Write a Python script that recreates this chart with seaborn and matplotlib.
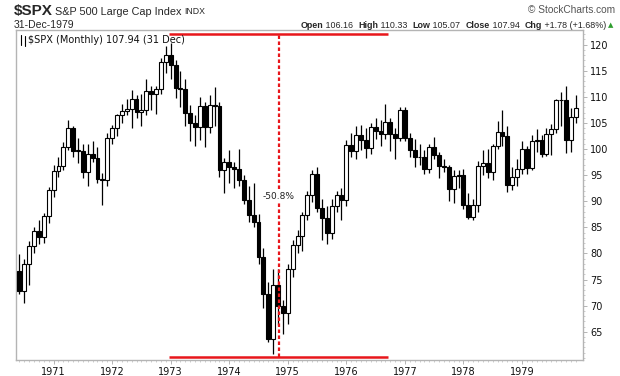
import matplotlib
matplotlib.use("Agg")
import matplotlib.pyplot as plt
import numpy as np
import pandas as pd
import seaborn as sns

# S&P 500 monthly candles, Jun 1970 - Dec 1979
months = pd.date_range("1970-06-01", "1979-12-01", freq="MS")

opens = [76.55, 72.72, 78.05, 81.52, 84.21, 83.25, 87.20,
         92.15, 95.88, 96.75, 100.31, 103.95, 99.63, 99.70, 95.58, 99.03, 98.34, 94.23, 93.99,
         102.09, 103.94, 106.57, 107.20, 107.67, 109.53, 107.14, 107.39, 111.09, 110.55, 111.58, 116.67,
         118.05, 116.03, 111.68, 111.52, 106.97, 104.95, 104.26, 108.22, 104.25, 108.43, 108.29, 95.96,
         97.55, 96.57, 96.22, 93.98, 90.31, 87.28, 86.00, 79.31, 72.15, 63.54, 73.90, 69.97,
         68.56, 76.98, 81.59, 83.36, 87.30, 91.15, 95.19, 88.75, 86.88, 83.87, 89.04, 91.24,
         90.19, 100.86, 99.71, 102.77, 101.64, 100.18, 104.28, 103.44, 102.91, 105.24, 102.90, 102.10,
         107.46, 102.03, 99.82, 98.42, 98.44, 96.12, 100.48, 98.85, 96.77, 96.53, 92.34, 94.83,
         95.10, 89.25, 87.04, 89.21, 96.83, 97.24, 95.53, 100.68, 103.29, 102.54, 93.15, 94.70,
         96.11, 99.93, 96.28, 101.59, 101.76, 99.08, 102.91, 103.81, 109.32, 109.32, 101.82, 106.16]

highs = [79.96, 78.90, 82.30, 85.10, 86.50, 87.80, 92.80,
         97.00, 98.50, 101.40, 105.60, 104.50, 102.10, 101.00, 101.00, 101.50, 100.40, 95.50, 103.00,
         104.60, 106.80, 108.60, 109.60, 111.30, 110.40, 110.50, 113.40, 112.10, 112.00, 117.50, 119.80,
         120.24, 117.00, 115.00, 113.50, 108.50, 106.50, 109.90, 109.00, 110.30, 111.80, 109.00, 98.30,
         99.80, 97.50, 100.00, 95.00, 93.00, 93.50, 87.50, 81.00, 74.50, 77.00, 77.00, 71.00,
         78.00, 82.50, 84.50, 88.00, 92.00, 96.00, 96.60, 90.50, 89.00, 90.50, 92.00, 92.50,
         101.80, 103.00, 104.40, 104.60, 104.00, 105.00, 106.00, 105.50, 108.60, 106.00, 104.00, 108.00,
         107.97, 103.00, 102.00, 101.00, 99.80, 101.00, 102.40, 99.50, 98.00, 97.00, 96.00, 96.00,
         96.20, 91.50, 90.50, 97.80, 99.80, 100.00, 101.00, 105.30, 107.50, 104.50, 96.50, 98.00,
         101.50, 100.50, 102.70, 103.80, 102.60, 104.00, 104.80, 109.50, 110.90, 112.00, 107.80, 110.33]

lows = [72.25, 70.60, 74.00, 80.00, 81.90, 82.00, 85.90,
        90.90, 94.70, 96.00, 99.80, 98.50, 97.30, 94.50, 93.00, 97.50, 93.50, 89.30, 93.00,
        101.00, 102.50, 105.00, 106.50, 104.00, 106.00, 104.50, 106.50, 107.50, 106.80, 110.50, 114.50,
        113.50, 109.70, 108.00, 104.50, 101.50, 100.50, 101.80, 100.40, 103.00, 104.50, 94.70, 91.50,
        93.50, 92.50, 93.00, 89.50, 86.00, 85.00, 78.00, 69.50, 63.10, 60.80, 66.30, 64.50,
        66.50, 75.50, 80.00, 80.50, 86.50, 89.80, 88.00, 82.50, 81.80, 82.80, 88.00, 86.50,
        89.00, 98.40, 98.00, 99.80, 98.20, 99.00, 102.00, 100.50, 102.00, 99.60, 98.00, 101.50,
        101.50, 98.40, 96.50, 97.00, 95.30, 95.50, 98.00, 94.50, 95.60, 90.00, 89.70, 92.50,
        88.60, 86.60, 86.40, 88.00, 95.00, 94.50, 94.00, 100.00, 100.50, 91.80, 92.20, 93.00,
        95.20, 95.30, 96.00, 99.50, 98.50, 98.60, 98.80, 103.00, 104.50, 99.20, 99.50, 105.07]

closes = [72.72, 78.05, 81.52, 84.21, 83.25, 87.20, 92.15,
          95.88, 96.75, 100.31, 103.95, 99.63, 99.70, 95.58, 99.03, 98.34, 94.23, 93.99, 102.09,
          103.94, 106.57, 107.20, 107.67, 109.53, 107.14, 107.39, 111.09, 110.55, 111.58, 116.67, 118.05,
          116.03, 111.68, 111.52, 106.97, 104.95, 104.26, 108.22, 104.25, 108.43, 108.29, 95.96, 97.55,
          96.57, 96.22, 93.98, 90.31, 87.28, 86.00, 79.31, 72.15, 63.54, 73.90, 69.97, 68.56,
          76.98, 81.59, 83.36, 87.30, 91.15, 95.19, 88.75, 86.88, 83.87, 89.04, 91.24, 90.19,
          100.86, 99.71, 102.77, 101.64, 100.18, 104.28, 103.44, 102.91, 105.24, 102.90, 102.10, 107.46,
          102.03, 99.82, 98.42, 98.44, 96.12, 100.48, 98.85, 96.77, 96.53, 92.34, 94.83, 95.10,
          89.25, 87.04, 89.21, 96.83, 97.24, 95.53, 100.68, 103.29, 102.54, 93.15, 94.70, 96.11,
          99.93, 96.28, 101.59, 101.76, 99.08, 102.91, 103.81, 109.32, 109.32, 101.82, 106.16, 107.94]

year_labels = ["1971", "1972", "1973", "1974", "1975", "1976", "1977", "1978", "1979"]
y_ticks = [65, 70, 75, 80, 85, 90, 95, 100, 105, 110, 115, 120]

# drawdown annotation
peak_level = 122.1
trough_level = 60.2
drop_label = "-50.8%"

df = pd.DataFrame({"date": months, "open": opens, "high": highs,
                   "low": lows, "close": closes})
df["pos"] = np.arange(len(df))
df["up"] = df["close"] >= df["open"]

sns.set_theme(style="white")
plt.rcParams["font.family"] = ["DejaVu Sans"]

fig = plt.figure(figsize=(6.2, 3.76), dpi=100)
ax = fig.add_axes([16 / 620, 16 / 376, 567 / 620, 330 / 376])

# wicks
ax.vlines(df["pos"], df["low"], df["high"], color="black", lw=0.9, zorder=2)
# bodies
body_lo = df[["open", "close"]].min(axis=1)
body_h = (df["close"] - df["open"]).abs().clip(lower=0.12)
ax.bar(df["pos"], body_h, bottom=body_lo, width=0.8,
       color=np.where(df["up"], "white", "black"), edgecolor="black",
       linewidth=0.8, zorder=3)

# red annotation
jan73 = df.index[df["date"] == "1973-01-01"][0]
oct76 = df.index[df["date"] == "1976-10-01"][0]
nov74 = df.index[df["date"] == "1974-11-01"][0]
ax.hlines([peak_level, trough_level], jan73 - 0.3, oct76 - 0.5, color="#e8161b", lw=1.8, zorder=4)
ax.vlines(nov74 + 0.2, trough_level, peak_level, color="#e8161b", lw=1.6,
          linestyles=(0, (1.6, 1.1)), zorder=4)
ax.text(nov74 + 0.2, 91.0, drop_label, ha="center", va="center", fontsize=6.5,
        color="#222222", zorder=5,
        bbox=dict(facecolor="white", edgecolor="none", pad=0.8))

ax.set_xlim(-0.7, 115.5)
ax.set_ylim(59.6, 122.8)

jan_pos = df.loc[df["date"].dt.month == 1, "pos"].values
ax.set_xticks(jan_pos)
ax.set_xticklabels(year_labels)
ax.set_xticks(df["pos"], minor=True)
ax.set_yticks(y_ticks)
ax.set_yticks(np.arange(60, 123, 1), minor=True)
ax.yaxis.tick_right()
ax.tick_params(axis="both", which="major", length=3, width=0.6, color="#a8a8a8",
               labelsize=7, labelcolor="#111111", pad=2)
ax.tick_params(axis="both", which="minor", length=1.5, width=0.5, color="#b8b8b8")
ax.tick_params(axis="y", which="both", left=False, right=True)
ax.tick_params(axis="x", which="both", bottom=True, top=False)
for s in ax.spines.values():
    s.set_color("#b4b4b4")
    s.set_linewidth(1.0)
ax.set_xlabel("")
ax.set_ylabel("")

# in-chart legend text
ax.text(0.022, 0.985, "$SPX (Monthly) 107.94 (31 Dec)", transform=ax.transAxes,
        ha="left", va="top", fontsize=7, color="#111111", zorder=6)
ax.plot([0.008, 0.008], [0.955, 0.985], transform=ax.transAxes, color="black", lw=0.8)
ax.plot([0.015, 0.015], [0.952, 0.982], transform=ax.transAxes, color="black", lw=0.8)

# header
lib = ["Liberation Sans", "DejaVu Sans"]
fig.canvas.draw()
renderer = fig.canvas.get_renderer()

fig.text(14 / 620, 1 - 11 / 376, "$SPX", fontsize=11, fontweight="bold", va="center",
         family=lib)
name = fig.text(55 / 620, 1 - 12 / 376, "S&P 500 Large Cap Index", fontsize=7.8,
                va="center", family=lib)
name_end = 55 + name.get_window_extent(renderer).width
fig.text((name_end + 3) / 620, 1 - 12 / 376, "INDX", fontsize=6.3, va="center", family=lib)
fig.text(14 / 620, 1 - 25 / 376, "31-Dec-1979", fontsize=7.5, va="center", family=lib)
fig.text(615 / 620, 1 - 10 / 376, "\u00a9 StockCharts.com", fontsize=7.3, va="center",
         ha="right", color="#555555", family=lib)

pieces = [("Open", "bold"), (" 106.16  ", "normal"), ("High", "bold"), (" 110.33  ", "normal"),
          ("Low", "bold"), (" 105.07  ", "normal"), ("Close", "bold"), (" 107.94  ", "normal"),
          ("Chg", "bold"), (" +1.78 (+1.68%)", "normal")]
hdr = []
for txt, w in pieces:
    hdr.append(fig.text(0, 1 - 25 / 376, txt, fontsize=6.4, fontweight=w, va="center",
                        family=lib))
widths = [t.get_window_extent(renderer).width for t in hdr]
xpx = 606 - sum(widths)
for t, wd in zip(hdr, widths):
    t.set_x(xpx / 620)
    xpx += wd
fig.text((xpx + 2) / 620, 1 - 25 / 376, "\u25b2", fontsize=5, color="#2e9e2e", va="center",
         family=["DejaVu Sans"])

fig.savefig("out.png", dpi=100)
